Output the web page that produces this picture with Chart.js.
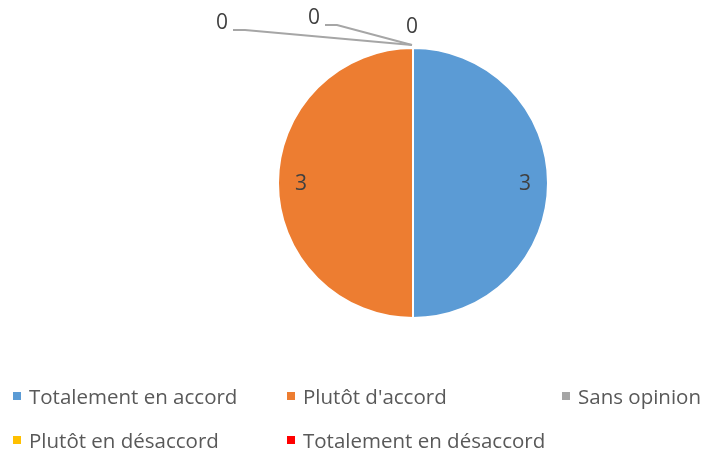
<!DOCTYPE html>
<html>
<head>
<meta charset="utf-8">
<script src="https://cdn.jsdelivr.net/npm/chart.js@4.4.1/dist/chart.umd.min.js"></script>
<style>
  html, body { margin: 0; padding: 0; background: #fff; }
  #wrap { position: relative; width: 705px; height: 454px; }
  #legende { position: absolute; left: 0; top: 0; width: 705px; height: 454px; pointer-events: none;
    font-family: "Open Sans", sans-serif; font-size: 20.5px; color: #595959; }
  .item { position: absolute; display: flex; align-items: center; white-space: nowrap; }
  .item span.carre { display: inline-block; width: 8px; height: 8px; margin-right: 8px; }
</style>
</head>
<body>
<div id="wrap">
  <canvas id="camembert" width="705" height="454"></canvas>
  <div id="legende"></div>
</div>
<script>
// Données du graphique
const categories = [
  "Totalement en accord",
  "Plutôt d'accord",
  "Sans opinion",
  "Plutôt en désaccord",
  "Totalement en désaccord",
];
const valeurs = [3, 3, 0, 0, 0];
const couleurs = ["#5B9BD5", "#ED7D31", "#A5A5A5", "#FFC000", "#FF0000"];

// placement des étiquettes "0" (par rapport au sommet du camembert), comme Excel
const placementZeros = [
  { dx: -191, dy: -25, ligne: true },
  { dx: -99, dy: -30, ligne: true },
  { dx: -1, dy: -21, ligne: false },
];

// position de la légende (colonne, ligne)
const legendeX = [13, 287, 562];
const legendeY = [396, 440];

const etiquettes = {
  id: "etiquettes",
  afterDatasetsDraw(chart) {
    const ctx = chart.ctx;
    const meta = chart.getDatasetMeta(0);
    let iz = 0;
    ctx.save();
    ctx.font = "21px 'Open Sans', sans-serif";
    ctx.textAlign = "center";
    ctx.textBaseline = "middle";
    meta.data.forEach((arc, i) => {
      const v = valeurs[i];
      const { x, y, startAngle, endAngle, outerRadius } = arc.getProps(
        ["x", "y", "startAngle", "endAngle", "outerRadius"], true);
      if (v > 0) {
        const a = (startAngle + endAngle) / 2;
        const r = outerRadius * 0.83;
        ctx.fillStyle = "#404040";
        ctx.fillText(String(v), x + Math.cos(a) * r, y + Math.sin(a) * r + 1);
      } else {
        const p = placementZeros[iz++] || { dx: 0, dy: -21, ligne: false };
        const sx = x, sy = y - outerRadius;
        const lx = sx + p.dx, ly = sy + p.dy;
        if (p.ligne) {
          ctx.strokeStyle = "#A6A6A6";
          ctx.lineWidth = 2;
          ctx.beginPath();
          ctx.moveTo(lx + 11, ly + 7);
          ctx.lineTo(lx + 23, ly + 7);
          ctx.lineTo(sx - 1, sy - 3);
          ctx.stroke();
        }
        ctx.fillStyle = "#404040";
        ctx.fillText(String(v), lx, ly);
      }
    });
    ctx.restore();
  },
};

new Chart(document.getElementById("camembert"), {
  type: "pie",
  data: {
    labels: categories,
    datasets: [
      {
        data: valeurs,
        backgroundColor: couleurs,
        borderColor: "#FFFFFF",
        borderWidth: 2,
      },
    ],
  },
  options: {
    responsive: false,
    animation: false,
    layout: { padding: { top: 47, bottom: 135, left: 277, right: 156 } },
    plugins: {
      legend: { display: false },
      tooltip: { enabled: false },
    },
  },
  plugins: [etiquettes],
});

// Légende en bas, 3 colonnes
const legendeDiv = document.getElementById("legende");
categories.forEach((c, i) => {
  const col = i % 3;
  const lig = Math.floor(i / 3);
  const el = document.createElement("div");
  el.className = "item";
  el.style.left = legendeX[col] + "px";
  el.style.top = (legendeY[lig] - 14) + "px";
  el.style.height = "28px";
  el.innerHTML = `<span class="carre" style="background:${couleurs[i]}"></span>${c}`;
  legendeDiv.appendChild(el);
});
</script>
</body>
</html>
